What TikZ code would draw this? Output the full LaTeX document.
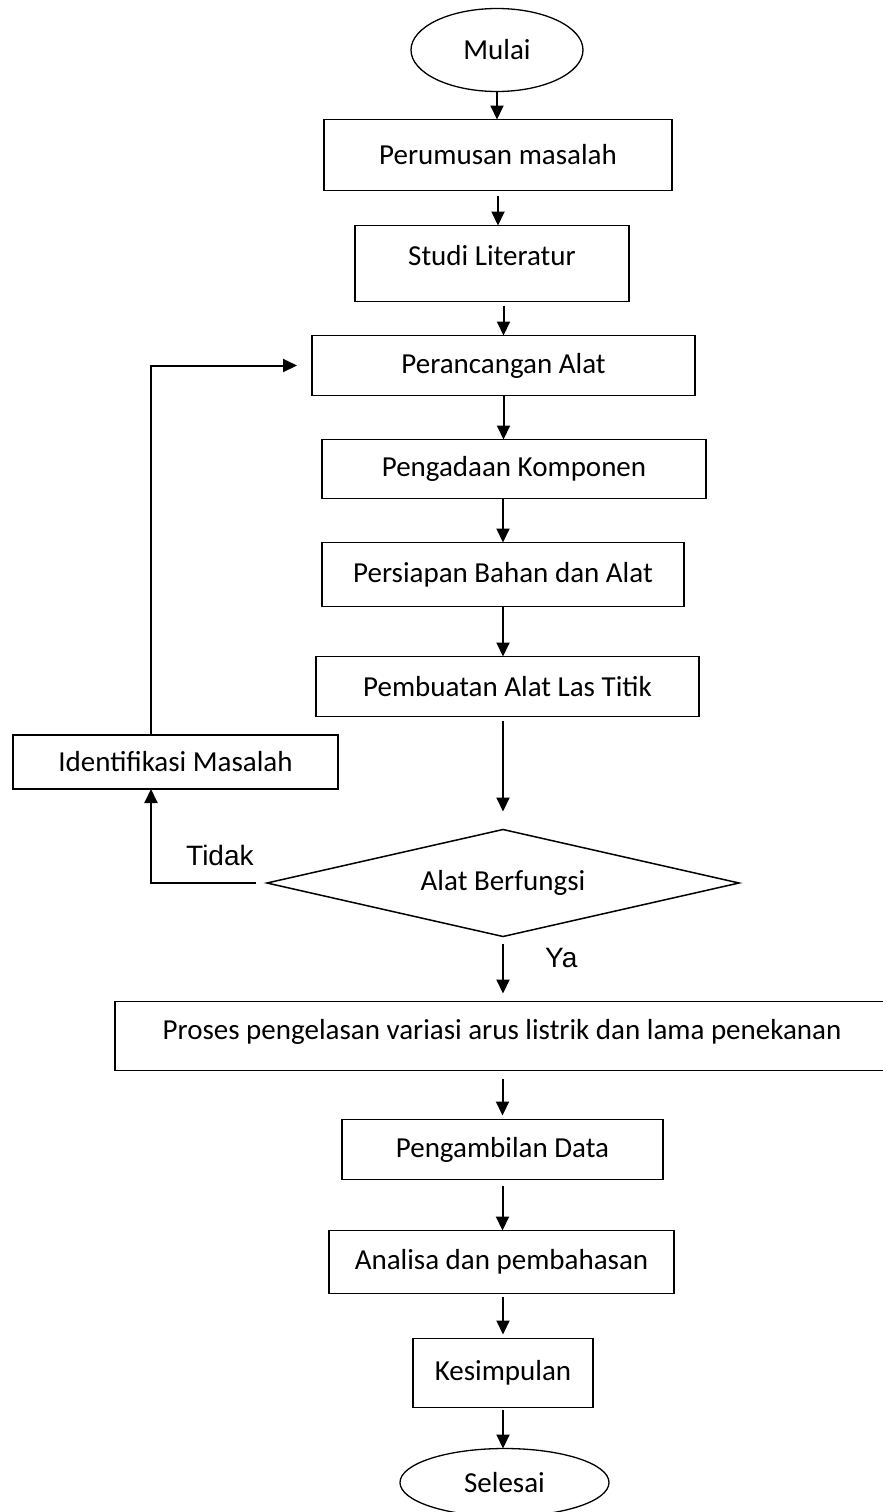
\documentclass[tikz,border=0pt]{standalone}
\usepackage{fontspec}
\setmainfont{Carlito}
\newfontfamily\arialfont{Liberation Sans}
\usetikzlibrary{shapes.geometric, arrows.meta, positioning}

\begin{document}
\begin{tikzpicture}[
        x=1pt, y=1pt,
        box/.style={rectangle, draw, line width=1.5pt, inner sep=0pt, outer sep=0pt, align=center, font=\fontsize{29}{35}\selectfont},
        terminal/.style={ellipse, draw, line width=1.3pt, inner sep=0pt, outer sep=0pt, font=\fontsize{29}{35}\selectfont},
        decision/.style={diamond, aspect=4.4, draw, line width=1.5pt, inner sep=0pt, outer sep=0pt, font=\fontsize{29}{35}\selectfont},
        arr/.style={-{Triangle[width=13pt, length=14pt]}, line width=2pt},
        answer/.style={inner sep=0pt, anchor=base west, font=\fontsize{28}{34}\arialfont}
    ]
        \useasboundingbox (0,0) rectangle (883,-1512);

        \node[terminal, minimum width=172pt, minimum height=83pt] (mulai) at (497,-50) {Mulai};
        \node[box, minimum width=348pt, minimum height=71pt, below=28pt of mulai, xshift=1pt] (rumus) {Perumusan masalah};
        \node[box, minimum width=274pt, minimum height=76pt, text depth=16pt, below=35pt of rumus, xshift=-6pt] (studi) {Studi Literatur};
        \node[box, minimum width=383pt, minimum height=60pt, below=34pt of studi, xshift=11.5pt] (rancang) {Perancangan Alat};
        \node[box, minimum width=384pt, minimum height=59pt, below=44pt of rancang, xshift=10.5pt] (adakan) {Pengadaan Komponen};
        \node[box, minimum width=362pt, minimum height=64pt, below=44pt of adakan, xshift=-11pt] (siap) {Persiapan Bahan dan Alat};
        \node[box, minimum width=383pt, minimum height=60pt, below=50pt of siap, xshift=4.5pt] (buat) {Pembuatan Alat Las Titik};
        \node[decision, minimum width=472pt, minimum height=107pt, below=113pt of buat, xshift=-4.5pt] (cek) {Alat Berfungsi};
        \node[box, minimum width=774pt, minimum height=69pt, text depth=14pt, below=65pt of cek, xshift=-1pt] (proses) {Proses pengelasan variasi arus listrik dan lama penekanan};
        \node[box, minimum width=321pt, minimum height=60pt, below=49pt of proses, xshift=0.5pt] (ambil) {Pengambilan Data};
        \node[box, minimum width=345pt, minimum height=63pt, below=51pt of ambil, xshift=-1pt] (analisa) {Analisa dan pembahasan};
        \node[box, minimum width=180pt, minimum height=69pt, below=45pt of analisa, xshift=1.5pt] (simpul) {Kesimpulan};
        \node[terminal, minimum width=209pt, minimum height=68pt, below=41pt of simpul, xshift=1.5pt] (selesai) {Selesai};

        \node[box, minimum width=325pt, minimum height=54pt] (identifikasi) at (175.5,-762) {Identifikasi Masalah};
        \coordinate (sisi) at (151,0);

        \node[answer] (tidak) at (186,-865) {Tidak};
        \node[answer] (ya) at (545,-967) {Ya};

        \draw[arr] (mulai) -- (mulai |- rumus.north);
        \draw[arr, shorten <=5pt] (rumus) -- (rumus |- studi.north);
        \draw[arr, shorten <=4pt] (rancang |- studi.south) -- (rancang.north);
        \draw[arr] (rancang) -- (rancang |- adakan.north);
        \draw[arr] (siap |- adakan.south) -- (siap.north);
        \draw[arr] (siap) -- (siap |- buat.north);
        \draw[arr, shorten <=4pt, shorten >=18pt] (cek |- buat.south) -- (cek.north);
        \draw[arr, shorten <=7pt, shorten >=8pt] (cek) -- (cek |- proses.north);
        \draw[arr, shorten <=8pt, shorten >=4pt] (ambil |- proses.south) -- (ambil.north);
        \draw[arr, shorten <=6pt] (ambil) -- (ambil |- analisa.north);
        \draw[arr, shorten <=3pt, shorten >=4pt] (simpul |- analisa.south) -- (simpul.north);
        \draw[arr, shorten <=2pt] (simpul) -- (simpul |- selesai.north);

        \draw[arr, shorten <=11pt] (cek.west) -| (sisi |- identifikasi.south);
        \draw[arr, shorten >=15pt] (sisi |- identifikasi.north) |- (rancang.west);
    \end{tikzpicture}
\end{document}
